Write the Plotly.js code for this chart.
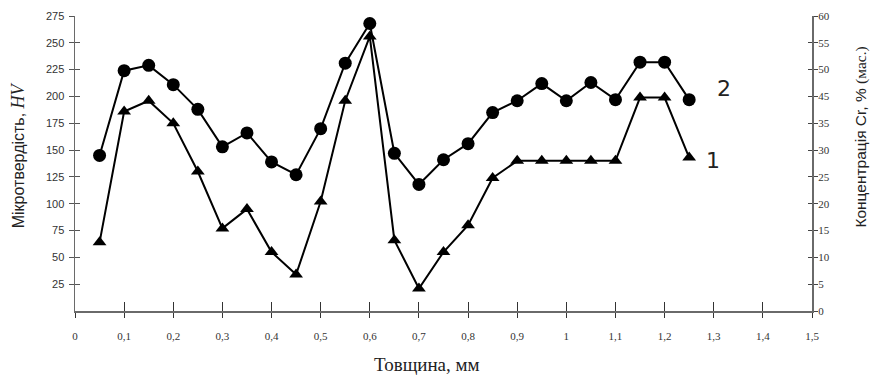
<!DOCTYPE html>
<html>
<head>
<meta charset="utf-8">
<script src="https://cdn.plot.ly/plotly-3.0.1.min.js"></script>
<style>html,body{margin:0;padding:0;background:#fff;}#chart{width:872px;height:376px;}</style>
</head>
<body>
<div id="chart"></div>
<script>
// Thickness, mm
var thickness = [0.05, 0.1, 0.15, 0.2, 0.25, 0.3, 0.35, 0.4, 0.45, 0.5, 0.55, 0.6, 0.65, 0.7, 0.75, 0.8, 0.85, 0.9, 0.95, 1.0, 1.05, 1.1, 1.15, 1.2, 1.25];
// Curve 1 (triangles)
var curve1 = [64, 186, 196, 175, 130, 77, 95, 55, 34, 102, 196, 256, 66, 21, 55, 80, 124, 140, 140, 140, 140, 140, 199, 199, 143];
// Curve 2 (circles)
var curve2 = [145, 224, 229, 211, 188, 153, 166, 139, 127, 170, 231, 268, 147, 118, 141, 156, 185, 196, 212, 196, 213, 197, 232, 232, 197];
// Right axis tick labels (as printed)
var rightTickVals = [0, 5, 10, 15, 20, 25, 30, 35, 40, 45, 50, 55];
var rightTickText = ["0", "5", "10", "15", "20", "25", "30", "35", "45", "50", "55", "60"];
var xTickVals = [0, 0.1, 0.2, 0.3, 0.4, 0.5, 0.6, 0.7, 0.8, 0.9, 1.0, 1.1, 1.2, 1.3, 1.4, 1.5];
var xTickText = ["0", "0,1", "0,2", "0,3", "0,4", "0,5", "0,6", "0,7", "0,8", "0,9", "1", "1,1", "1,2", "1,3", "1,4", "1,5"];
var leftTickVals = [25, 50, 75, 100, 125, 150, 175, 200, 225, 250, 275];

var traces = [
  {x: thickness, y: curve1, mode: 'lines+markers', type: 'scatter',
   line: {color: '#000', width: 2}, marker: {symbol: 'triangle-up', size: 12, color: '#000'}, showlegend: false},
  {x: thickness, y: curve2, mode: 'lines+markers', type: 'scatter',
   line: {color: '#000', width: 2}, marker: {symbol: 'circle', size: 13, color: '#000'}, showlegend: false},
  // invisible helper traces to activate overlay axes
  {x: [0], y: [0], yaxis: 'y2', mode: 'markers', marker: {opacity: 0}, hoverinfo: 'skip', showlegend: false},
  {x: [0], y: [0], yaxis: 'y3', mode: 'markers', marker: {opacity: 0}, hoverinfo: 'skip', showlegend: false},
  {x: [0], y: [0], yaxis: 'y4', mode: 'markers', marker: {opacity: 0}, hoverinfo: 'skip', showlegend: false},
  {x: [0], y: [0], xaxis: 'x2', mode: 'markers', marker: {opacity: 0}, hoverinfo: 'skip', showlegend: false}
];

var axisCol = '#6a6a6a';
var layout = {
  width: 872, height: 376,
  margin: {l: 75, r: 60, t: 16, b: 65},
  paper_bgcolor: '#fff', plot_bgcolor: '#fff',
  showlegend: false,
  xaxis: {
    range: [0, 1.5], tickvals: xTickVals, ticktext: xTickText,
    showgrid: false, zeroline: false, showline: true, linecolor: axisCol, linewidth: 2,
    ticks: 'outside', ticklen: 5, tickcolor: '#333', tickwidth: 1,
    ticklabelstandoff: 9,
    tickfont: {family: 'Liberation Serif', size: 11, color: '#333'}
  },
  xaxis2: {
    range: [0, 1.5], tickvals: xTickVals, overlaying: 'x', side: 'bottom',
    showgrid: false, zeroline: false, showline: false, showticklabels: false,
    ticks: 'inside', ticklen: 9, tickcolor: '#333', tickwidth: 1
  },
  yaxis: {
    range: [0, 275], tickvals: leftTickVals,
    showgrid: false, zeroline: false, showline: true, linecolor: axisCol, linewidth: 1.5,
    ticks: 'outside', ticklen: 5, tickcolor: '#555', tickwidth: 1,
    ticklabelstandoff: 2,
    tickfont: {family: 'Liberation Sans', size: 11, color: '#333'}
  },
  yaxis3: {
    range: [0, 275], tickvals: leftTickVals, overlaying: 'y', side: 'left',
    showgrid: false, zeroline: false, showline: false, showticklabels: false,
    ticks: 'inside', ticklen: 5, tickcolor: '#555', tickwidth: 1
  },
  yaxis2: {
    range: [0, 55], tickvals: rightTickVals, ticktext: rightTickText,
    overlaying: 'y', side: 'right',
    showgrid: false, zeroline: false, showline: true, linecolor: axisCol, linewidth: 2,
    ticks: 'outside', ticklen: 4, tickcolor: '#444', tickwidth: 1,
    ticklabelstandoff: -2,
    tickfont: {family: 'Liberation Serif', size: 11, color: '#333'}
  },
  yaxis4: {
    range: [0, 55], tickvals: rightTickVals, overlaying: 'y', side: 'right',
    showgrid: false, zeroline: false, showline: false, showticklabels: false,
    ticks: 'inside', ticklen: 4, tickcolor: '#444', tickwidth: 1
  },
  annotations: [
    {xref: 'paper', yref: 'paper', x: -0.0773, y: 0.528, textangle: -90, showarrow: false,
     xanchor: 'center', yanchor: 'middle',
     text: 'Мікротвердість, <span style="font-family:Liberation Serif;font-size:18px"><i>HV</i></span>',
     font: {family: 'Liberation Sans', size: 16, color: '#222'}},
    {xref: 'paper', yref: 'paper', x: 1.066, y: 0.59, textangle: -90, showarrow: false,
     xanchor: 'center', yanchor: 'middle',
     text: 'Концентрація Cr, % <span style="font-family:Liberation Serif">(мас.)</span>',
     font: {family: 'Liberation Sans', size: 15.5, color: '#222'}},
    {xref: 'paper', yref: 'paper', x: 0.478, y: -0.18, showarrow: false,
     xanchor: 'center', yanchor: 'middle',
     text: 'Товщина, мм',
     font: {family: 'Liberation Serif', size: 19, color: '#222'}},
    {xref: 'paper', yref: 'paper', x: 0.8806, y: 0.7557, showarrow: false,
     xanchor: 'center', yanchor: 'middle', text: '2',
     font: {family: 'DejaVu Sans', size: 22, color: '#222'}},
    {xref: 'paper', yref: 'paper', x: 0.8653, y: 0.509, showarrow: false,
     xanchor: 'center', yanchor: 'middle', text: '1',
     font: {family: 'DejaVu Sans', size: 22, color: '#222'}}
  ]
};

Plotly.newPlot('chart', traces, layout, {displayModeBar: false, staticPlot: true});
</script>
</body>
</html>
